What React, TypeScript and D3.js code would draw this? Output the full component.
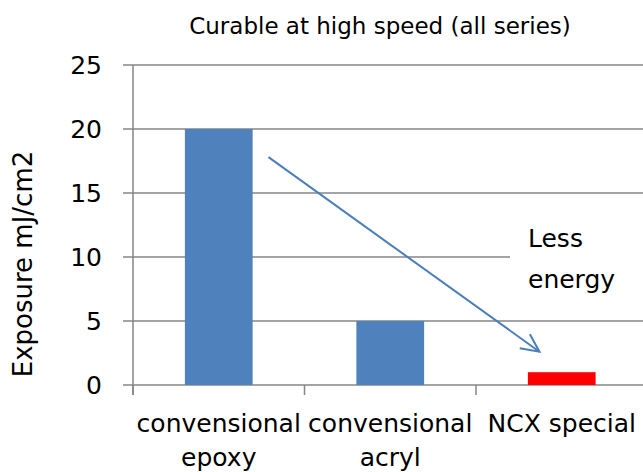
import React, { useEffect, useRef } from 'react';
import * as d3 from 'd3';

const categories = [['convensional', 'epoxy'], ['convensional', 'acryl'], ['NCX special']];
const exposure = [20, 5, 1];
const barColors = ['#4f81bd', '#4f81bd', '#ff0000'];
const yTicks = [0, 5, 10, 15, 20, 25];
const title = 'Curable at high speed (all series)';
const yTitle = 'Exposure mJ/cm2';
const noteLines = ['Less', 'energy'];
// arrow from (category 0, 17.8) to (category 2, 2.6), offsets as band fractions
const arrowFrom = { cat: 0, frac: 0.79, value: 17.8 };
const arrowTo = { cat: 2, frac: 0.37, value: 2.6 };

const W = 643;
const H = 472;
const font = '"DejaVu Sans", Verdana, sans-serif';

const App = () => {
  const ref = useRef<SVGSVGElement>(null);

  useEffect(() => {
    const svg = d3.select(ref.current);
    svg.selectAll('*').remove();

    const left = 133;
    const bandW = 171.5;
    const x = d3
      .scaleBand<number>()
      .domain(categories.map((_, i) => i))
      .range([left, left + bandW * categories.length])
      .paddingInner(0)
      .paddingOuter(0);
    const y = d3.scaleLinear().domain([0, 25]).range([385, 65]);

    // gridlines
    svg
      .append('g')
      .selectAll('line')
      .data(yTicks)
      .join('line')
      .attr('x1', left - 10)
      .attr('x2', W)
      .attr('y1', d => y(d))
      .attr('y2', d => y(d))
      .attr('stroke', '#868686')
      .attr('stroke-width', 1.5);

    // y axis line
    svg
      .append('line')
      .attr('x1', left)
      .attr('x2', left)
      .attr('y1', y(25))
      .attr('y2', y(0) + 10)
      .attr('stroke', '#868686')
      .attr('stroke-width', 1.5);

    // x ticks
    svg
      .append('g')
      .selectAll('line')
      .data(d3.range(categories.length + 1))
      .join('line')
      .attr('x1', d => left + d * x.bandwidth())
      .attr('x2', d => left + d * x.bandwidth())
      .attr('y1', y(0))
      .attr('y2', y(0) + 10)
      .attr('stroke', '#868686')
      .attr('stroke-width', 1.5);

    // bars
    const barW = x.bandwidth() * 0.395;
    svg
      .append('g')
      .selectAll('rect')
      .data(exposure)
      .join('rect')
      .attr('x', (_, i) => (x(i) as number) + (x.bandwidth() - barW) / 2)
      .attr('width', barW)
      .attr('y', d => y(d))
      .attr('height', d => y(0) - y(d))
      .attr('fill', (_, i) => barColors[i]);

    // y tick labels
    svg
      .append('g')
      .selectAll('text')
      .data(yTicks)
      .join('text')
      .attr('x', 102)
      .attr('y', d => y(d) + 9)
      .attr('text-anchor', 'end')
      .attr('font-family', font)
      .attr('font-size', 25)
      .attr('fill', '#000')
      .text(d => d);

    // x labels
    const xl = svg
      .append('g')
      .selectAll('text')
      .data(categories)
      .join('text')
      .attr('text-anchor', 'middle')
      .attr('font-family', font)
      .attr('font-size', 25)
      .attr('fill', '#000');
    xl.selectAll('tspan')
      .data((d, i) => d.map(t => ({ t, i })))
      .join('tspan')
      .attr('x', d => (x(d.i) as number) + x.bandwidth() / 2)
      .attr('y', (_, j) => 432 + j * 34)
      .text(d => d.t);

    // title
    svg
      .append('text')
      .attr('x', 380)
      .attr('y', 34)
      .attr('text-anchor', 'middle')
      .attr('font-family', font)
      .attr('font-size', 23)
      .attr('fill', '#000')
      .text(title);

    // y title
    svg
      .append('text')
      .attr('transform', `translate(32,${(148 + 380) / 2}) rotate(-90)`)
      .attr('text-anchor', 'middle')
      .attr('font-family', font)
      .attr('font-size', 26)
      .attr('fill', '#000')
      .text(yTitle);

    // note box
    svg
      .append('rect')
      .attr('x', 510)
      .attr('y', 210)
      .attr('width', W - 510)
      .attr('height', 95)
      .attr('fill', '#fff');
    svg
      .append('text')
      .attr('font-family', font)
      .attr('font-size', 25)
      .attr('fill', '#000')
      .selectAll('tspan')
      .data(noteLines)
      .join('tspan')
      .attr('x', 528)
      .attr('y', (_, i) => 247 + i * 41)
      .text(d => d);

    // arrow
    const x1 = (x(arrowFrom.cat) as number) + x.bandwidth() * arrowFrom.frac;
    const y1 = y(arrowFrom.value);
    const x2 = (x(arrowTo.cat) as number) + x.bandwidth() * arrowTo.frac;
    const y2 = y(arrowTo.value);
    const ang = Math.atan2(y2 - y1, x2 - x1);
    const hl = 20;
    const spread = 0.45;
    const arrowColor = '#4a7ebb';
    svg
      .append('line')
      .attr('x1', x1)
      .attr('y1', y1)
      .attr('x2', x2)
      .attr('y2', y2)
      .attr('stroke', arrowColor)
      .attr('stroke-width', 2);
    const p = d3.path();
    p.moveTo(x2 - hl * Math.cos(ang - spread), y2 - hl * Math.sin(ang - spread));
    p.lineTo(x2, y2);
    p.lineTo(x2 - hl * Math.cos(ang + spread), y2 - hl * Math.sin(ang + spread));
    svg
      .append('path')
      .attr('d', p.toString())
      .attr('fill', 'none')
      .attr('stroke', arrowColor)
      .attr('stroke-width', 2);
  }, []);

  return (
    <div style={{ position: 'absolute', left: 0, top: 0 }}>
      <svg ref={ref} width={W} height={H} style={{ display: 'block', background: '#fff' }} />
    </div>
  );
};

export default App;
